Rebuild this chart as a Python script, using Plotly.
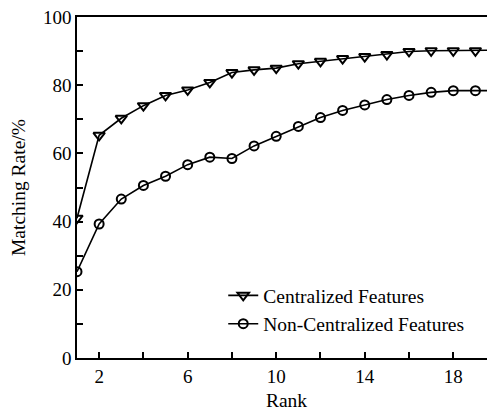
import plotly.graph_objects as go

rank = list(range(1, 21))
centralized = [41, 65.3, 70.3, 74, 77, 78.6, 80.8, 83.7, 84.5, 85, 86.3, 87, 87.8, 88.4, 89,
               89.9, 90.1, 90.1, 90.1, 90.3]
non_centralized = [25.3, 39.3, 46.6, 50.6, 53.3, 56.7, 58.9, 58.5, 62.2, 65, 67.9, 70.5, 72.6,
                   74.2, 75.8, 77, 77.9, 78.4, 78.4, 78.4]
x_tickvals = [2, 4, 6, 8, 10, 12, 14, 16, 18]
x_ticktext = ["2", "", "6", "", "10", "", "14", "", "18"]
y_tickvals = [0, 10, 20, 30, 40, 50, 60, 70, 80, 90, 100]
y_ticktext = ["0", "", "20", "", "40", "", "60", "", "80", "", "100"]

FONT = "Liberation Serif, Times New Roman, serif"

fig = go.Figure()
fig.add_trace(go.Scatter(
    x=rank, y=centralized, name="Centralized Features", mode="lines+markers",
    line=dict(color="black", width=1.6),
    marker=dict(symbol="triangle-down-open", size=10, color="black", line=dict(width=2)),
))
fig.add_trace(go.Scatter(
    x=rank, y=non_centralized, name="Non-Centralized Features", mode="lines+markers",
    line=dict(color="black", width=1.6),
    marker=dict(symbol="circle-open", size=9, color="black", line=dict(width=2)),
))

fig.update_layout(
    width=488, height=403,
    margin=dict(l=69, r=0, t=9, b=53),
    paper_bgcolor="white", plot_bgcolor="white",
    font=dict(family=FONT, color="black", size=19),
    showlegend=True,
    legend=dict(
        x=0.349, y=0.24, xanchor="left", yanchor="top",
        bgcolor="rgba(0,0,0,0)", font=dict(size=19.5, family=FONT),
        itemwidth=30, tracegroupgap=0,
    ),
    xaxis=dict(
        automargin=False,
        range=[1, 19.93], showgrid=False, zeroline=False,
        showline=True, linecolor="black", linewidth=1.5, mirror=True,
        ticks="inside", ticklen=6, tickwidth=1.5, tickcolor="black",
        tickvals=x_tickvals, ticktext=x_ticktext,
        tickfont=dict(size=19, family=FONT),
        title=dict(text="Rank", font=dict(size=19.5, family=FONT), standoff=8),
    ),
    yaxis=dict(
        automargin=False,
        range=[0, 100], showgrid=False, zeroline=False,
        showline=True, linecolor="black", linewidth=1.5,
        ticks="inside", ticklen=6, tickwidth=1.5, tickcolor="black",
        tickvals=y_tickvals, ticktext=y_ticktext,
        tickfont=dict(size=19, family=FONT),
        ticklabelstandoff=0, ticklabeloverflow="allow",
        title=dict(text="Matching Rate/%", font=dict(size=19.5, family=FONT), standoff=23),
    ),
)

fig.write_html("out.html")
